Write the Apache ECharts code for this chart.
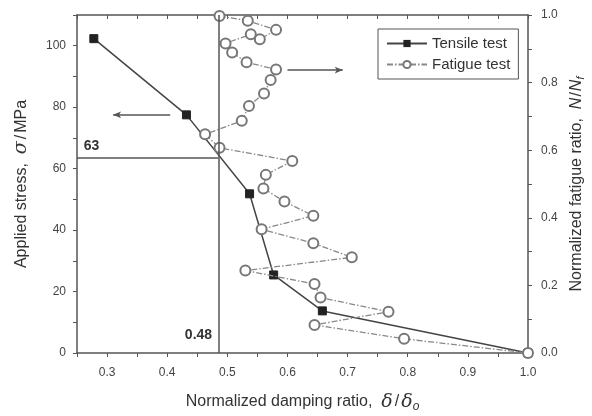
<!DOCTYPE html>
<html>
<head>
<meta charset="utf-8">
<script src="https://cdn.jsdelivr.net/npm/echarts@6/dist/echarts.min.js"></script>
<style>
  html, body { margin: 0; padding: 0; background: #fff; }
  #chart { width: 592px; height: 416px; }
</style>
</head>
<body>
<div id="chart"></div>
<script>
// tensile test: damping ratio vs applied stress (left axis)
const tensileX = [0.278, 0.432, 0.537, 0.577, 0.658, 1.0];
const tensileStress = [102.3, 77.5, 51.8, 25.4, 13.7, 0];

// fatigue test: damping ratio vs N/Nf (right axis)
const fatigueX = [0.487, 0.534, 0.581, 0.554, 0.539, 0.497, 0.508, 0.532, 0.581, 0.572, 0.561, 0.536,
  0.524, 0.463, 0.487, 0.608, 0.564, 0.560, 0.595, 0.643, 0.557, 0.643, 0.707, 0.530, 0.645, 0.655,
  0.768, 0.645, 0.794, 1.0];
const fatigueRatio = [0.997, 0.983, 0.956, 0.928, 0.943, 0.916, 0.889, 0.860, 0.839, 0.808, 0.768, 0.731,
  0.687, 0.647, 0.607, 0.568, 0.527, 0.487, 0.448, 0.406, 0.366, 0.325, 0.283, 0.244, 0.204, 0.164,
  0.122, 0.083, 0.042, 0];

// reading lines
const critStress = 63.6;
const critDamping = 0.485;

const chart = echarts.init(document.getElementById('chart'));
const font = 'Liberation Sans, Arial, sans-serif';
const axisColor = '#555';
const labelColor = '#444';

chart.setOption({
  animation: false,
  textStyle: { fontFamily: font },
  grid: { left: 77, right: 64, top: 15, bottom: 63, containLabel: false, outerBoundsMode: 'none' },
  legend: {
    orient: 'vertical',
    left: 378,
    top: 29,
    itemWidth: 40,
    itemHeight: 9,
    itemGap: 6,
    padding: [7, 8, 7, 8],
    backgroundColor: '#fff',
    borderColor: '#555',
    borderWidth: 1,
    borderRadius: 0,
    textStyle: { fontSize: 15, color: '#333', fontFamily: font },
    data: ['Tensile test', 'Fatigue test']
  },
  xAxis: [{
    type: 'value',
    min: 0.25,
    max: 1.0,
    interval: 0.05,
    position: 'bottom',
    name: 'Normalized damping ratio,  {i|δ}{n|/}{i|δ}{s|o}',
    nameLocation: 'middle',
    nameGap: 38,
    nameTextStyle: {
      fontSize: 16, color: '#333',
      rich: {
        i: { fontSize: 19, fontStyle: 'italic', fontFamily: 'DejaVu Serif', color: '#333' },
        n: { fontSize: 16, color: '#333', padding: [0, 2, 0, 2] },
        s: { fontSize: 12, fontStyle: 'italic', color: '#333', verticalAlign: 'bottom', padding: [10, 0, 0, 0] }
      }
    },
    splitLine: { show: false },
    axisLine: { show: true, onZero: false, lineStyle: { color: axisColor, width: 1.5 } },
    axisTick: { show: true, length: 4, lineStyle: { color: axisColor } },
    axisLabel: {
      color: labelColor, fontSize: 12, margin: 14,
      formatter: v => Math.abs(v * 10 - Math.round(v * 10)) < 1e-6 && v > 0.26 ? v.toFixed(1) : ''
    }
  }, {
    type: 'value',
    min: 0.25,
    max: 1.0,
    interval: 0.05,
    position: 'top',
    splitLine: { show: false },
    axisLine: { show: true, onZero: false, lineStyle: { color: axisColor, width: 1.5 } },
    axisTick: { show: true, inside: true, length: 4, lineStyle: { color: axisColor } },
    axisLabel: { show: false }
  }],
  yAxis: [{
    type: 'value',
    min: 0,
    max: 110,
    interval: 10,
    position: 'left',
    name: 'Applied stress,  {i|σ}{n|/}MPa',
    nameLocation: 'middle',
    nameRotate: 90,
    nameGap: 46,
    nameTextStyle: {
      fontSize: 16, color: '#333',
      rich: {
        i: { fontSize: 19, fontStyle: 'italic', fontFamily: 'DejaVu Serif', color: '#333' },
        n: { fontSize: 16, color: '#333', padding: [0, 2, 0, 2] }
      }
    },
    splitLine: { show: false },
    axisLine: { show: true, onZero: false, lineStyle: { color: axisColor, width: 1.5 } },
    axisTick: { show: true, length: 4, lineStyle: { color: axisColor } },
    axisLabel: {
      color: labelColor, fontSize: 12, margin: 11,
      formatter: v => (Math.round(v) % 20 === 0 && v < 105) ? String(Math.round(v)) : ''
    }
  }, {
    type: 'value',
    min: 0,
    max: 1.0,
    interval: 0.1,
    position: 'right',
    name: 'Normalized fatigue ratio,  {i|N}{n|/}{i|N}{s|f}',
    nameLocation: 'middle',
    nameRotate: 90,
    nameGap: 39,
    nameTextStyle: {
      fontSize: 16, color: '#333',
      rich: {
        i: { fontSize: 16, fontStyle: 'italic', color: '#333' },
        n: { fontSize: 16, color: '#333', padding: [0, 1, 0, 1] },
        s: { fontSize: 11, fontStyle: 'italic', color: '#333', verticalAlign: 'bottom', padding: [8, 0, 0, 0] }
      }
    },
    splitLine: { show: false },
    axisLine: { show: true, onZero: false, lineStyle: { color: axisColor, width: 1.5 } },
    axisTick: { show: true, length: 4, lineStyle: { color: axisColor } },
    axisLabel: {
      color: labelColor, fontSize: 12, margin: 13,
      formatter: v => Math.round(v * 10) % 2 === 0 ? v.toFixed(1) : ''
    }
  }],
  series: [{
    name: 'Tensile test',
    type: 'line',
    xAxisIndex: 0,
    yAxisIndex: 0,
    clip: false,
    data: tensileX.map((x, i) => [x, tensileStress[i]]),
    symbol: 'rect',
    symbolSize: 8,
    itemStyle: { color: '#222', borderColor: '#222' },
    lineStyle: { color: '#444', width: 1.5 },
    z: 2,
    markLine: {
      silent: true,
      symbol: 'none',
      label: { show: false },
      lineStyle: { color: '#555', width: 1.5, type: 'solid' },
      data: [
        [{ coord: [0.25, critStress] }, { coord: [critDamping, critStress] }],
        [{ coord: [critDamping, 0] }, { coord: [critDamping, 110] }],
        [{ coord: [0.405, 77.5], symbol: 'none' }, { coord: [0.31, 77.5], symbol: 'arrow', symbolSize: [5, 8] }]
      ]
    },
    markPoint: {
      silent: true,
      symbol: 'circle',
      symbolSize: 0,
      label: { show: true, position: 'inside', fontSize: 14, fontWeight: 'bold', color: '#333', formatter: p => p.name },
      data: [
        { name: '63', coord: [0.274, 67.3] },
        { name: '0.48', coord: [0.452, 5.8] }
      ]
    }
  }, {
    name: 'Fatigue test',
    type: 'line',
    xAxisIndex: 0,
    yAxisIndex: 1,
    clip: false,
    data: fatigueX.map((x, i) => [x, fatigueRatio[i]]),
    symbol: 'emptyCircle',
    symbolSize: 10,
    showSymbol: true,
    itemStyle: { color: '#777', borderColor: '#777', borderWidth: 1.5 },
    lineStyle: { color: '#888', width: 1.3, type: [6, 2, 1.5, 2] },
    z: 3,
    markLine: {
      silent: true,
      symbol: 'none',
      label: { show: false },
      lineStyle: { color: '#555', width: 1.5, type: 'solid' },
      data: [
        [{ coord: [0.6, 0.837], symbol: 'none' }, { coord: [0.692, 0.837], symbol: 'arrow', symbolSize: [5, 8] }]
      ]
    }
  }]
});
</script>
</body>
</html>
